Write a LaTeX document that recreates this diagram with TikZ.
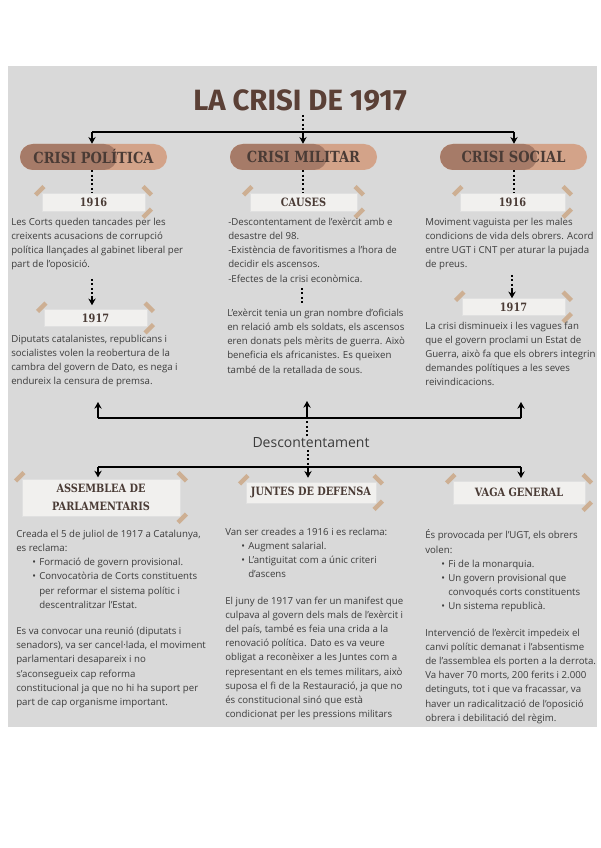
\documentclass[tikz,border=0pt]{standalone}
\usepackage{fontspec}
\setmainfont{Open Sans}
\newfontfamily\slabfont[FakeStretch=0.85]{DejaVu Serif}
\newfontfamily\titlefont{Fira Sans}
\usetikzlibrary{arrows.meta}
\definecolor{bggray}{HTML}{D9D9D9}
\definecolor{pilldark}{HTML}{A67B68}
\definecolor{pilllight}{HTML}{D3A389}
\definecolor{pilltext}{HTML}{4A3B35}
\definecolor{titlebrown}{HTML}{5B4036}
\definecolor{paper}{HTML}{F1F0EE}
\definecolor{tapecol}{HTML}{C9A17C}
\definecolor{bodytext}{HTML}{3C3C3C}
\newcommand{\bul}{\hspace*{12pt}\makebox[5.25pt][l]{\textbullet}}
\newcommand{\cont}{\hspace*{17.25pt}}
\tikzset{
  body/.style={anchor=north west, align=left, inner sep=0pt, font=\fontsize{7.25}{10.65}\selectfont, text=bodytext},
  pilltxt/.style={inner sep=0pt, minimum width=147*0.75pt, minimum height=26*0.75pt, font=\slabfont\bfseries\fontsize{11.5}{12}\selectfont, text=pilltext},
  paperbox/.style={fill=paper, draw=black!12, line width=0.4pt, inner sep=0pt, font=\slabfont\bfseries\fontsize{8.6}{13.5}\selectfont, text=pilltext, align=center},
  conn/.style={line width=1.5pt, draw=black},
  arr/.style={conn, -{Stealth[length=5pt,width=5.5pt]}},
  dots/.style={line width=1.5pt, draw=black, dash pattern=on 1.5pt off 1.8pt},
  tapestrip/.pic={\fill[tapecol, opacity=0.75] (-6,-2.2) rectangle (6,2.2);}
}
\newcommand{\tapes}[1]{%
  \pic[rotate=45] at ([xshift=-1.5pt,yshift=1.5pt]#1.north west) {tapestrip};
  \pic[rotate=-45] at ([xshift=1.5pt,yshift=1.5pt]#1.north east) {tapestrip};
  \pic[rotate=45] at ([xshift=1.5pt,yshift=-1.5pt]#1.south east) {tapestrip};}
\begin{document}
\begin{tikzpicture}[x=0.75pt,y=-0.75pt]
\useasboundingbox (0,0) rectangle (600,848);
\fill[white] (0,0) rectangle (600,848);
\fill[bggray] (8,66) rectangle (597,727);

% title
\node[font=\titlefont\bfseries\fontsize{22}{26}\selectfont, text=titlebrown, inner sep=2pt] (title) at (300,101) {LA CRISI DE 1917};

% pills
\fill[pilllight, rounded corners=9.75pt] (20,144) rectangle (167,170);
\fill[pilldark, rounded corners=9.75pt] (20,144) rectangle (117,170);
\node[pilltxt] (pol) at (93.5,157) {CRISI POLÍTICA};
\fill[pilllight, rounded corners=9.75pt] (230,144) rectangle (377,170);
\fill[pilldark, rounded corners=9.75pt] (230,144) rectangle (327,170);
\node[pilltxt] (mil) at (303.5,157) {CRISI MILITAR};
\fill[pilllight, rounded corners=9.75pt] (440,144) rectangle (587,170);
\fill[pilldark, rounded corners=9.75pt] (440,144) rectangle (537,170);
\node[pilltxt] (soc) at (513.5,157) {CRISI SOCIAL};

% top hub
\coordinate (h1l) at (92,132);
\coordinate (h1m) at (303,132);
\coordinate (h1r) at (514,132);
\draw[dots] (title.south -| h1m) -- (h1m);
\draw[conn] (h1l) -- (h1r);
\draw[arr] (h1l) -- (pol.north -| h1l);
\draw[arr] (h1m) -- (mil.north -| h1m);
\draw[arr] (h1r) -- (soc.north -| h1r);

% boxes row 1
\node[paperbox, minimum width=103*0.75pt, minimum height=18*0.75pt] (pol16) at (93.5,202) {1916};
\node[paperbox, minimum width=107*0.75pt, minimum height=18*0.75pt] (causes) at (303.5,202) {CAUSES};
\node[paperbox, minimum width=105*0.75pt, minimum height=18*0.75pt] (soc16) at (512.5,202) {1916};
\tapes{pol16}\tapes{causes}\tapes{soc16}
\draw[dots] (pol.south -| h1l) -- (pol16.north -| h1l);
\draw[dots] (mil.south -| h1m) -- (causes.north -| h1m);
\draw[dots] (soc.south -| h1r) -- (soc16.north -| h1r);

% texts row 1
\node[body] (tpol16) at (11,217.7) {Les Corts queden tancades per les\\creixents acusacions de corrupció\\política llançades al gabinet liberal per\\part de l'oposició.};
\node[body] (tcauses) at (228,217.7) {-Descontentament de l'exèrcit amb e\\desastre del 98.\\-Existència de favoritismes a l'hora de\\decidir els ascensos.\\-Efectes de la crisi econòmica.};
\node[body] (tsoc16) at (425,217.7) {Moviment vaguista per les males\\condicions de vida dels obrers. Acord\\entre UGT i CNT per aturar la pujada\\de preus.};

% boxes 1917
\node[paperbox, minimum width=103*0.75pt, minimum height=17*0.75pt] (pol17) at (95.5,318) {1917};
\node[paperbox, minimum width=103*0.75pt, minimum height=17*0.75pt] (soc17) at (513.5,307) {1917};
\tapes{pol17}\tapes{soc17}

\coordinate (d1) at (92,279);
\coordinate (d1b) at (92,296);
\draw[dots] (d1) -- (d1b);
\draw[arr, shorten >=3pt] (d1b) -- (pol17.north -| d1b);
\coordinate (d3) at (512,275);
\coordinate (d3b) at (512,290);
\draw[dots] (d3) -- (d3b);
\draw[arr] (d3b) -- (soc17.north -| d3b);

\node[body] (tpol17) at (11,334.7) {Diputats catalanistes, republicans i\\socialistes volen la reobertura de la\\cambra del govern de Dato, es nega i\\endureix la censura de premsa.};
\node[body] (tmil2) at (227,308.7) {L'exèrcit tenia un gran nombre d'oficials\\en relació amb els soldats, els ascensos\\eren donats pels mèrits de guerra. Això\\beneficia els africanistes. Es queixen\\també de la retallada de sous.};
\node[body] (tsoc17) at (425,321.5) {La crisi disminueix i les vagues fan\\que el govern proclami un Estat de\\Guerra, això fa que els obrers integrin\\demandes polítiques a les seves\\reivindicacions.};
\coordinate (d2) at (302,288);
\coordinate (d2b) at (302,304);
\draw[dots] (d2) -- (d2b);

% middle hub
\coordinate (u1) at (98,418);
\coordinate (u2) at (307,418);
\coordinate (u3) at (521,418);
\coordinate (u1t) at (98,402);
\coordinate (u2t) at (307,401);
\coordinate (u3t) at (521,402);
\draw[conn] (u1) -- (u3);
\draw[arr] (u1) -- (u1t);
\draw[arr] (u2) -- (u2t);
\draw[arr] (u3) -- (u3t);
\node[font=\fontsize{10.5}{12}\selectfont, text=bodytext, inner sep=1pt] (desc) at (311,443) {Descontentament};
\draw[dots] (desc.north -| u2) -- (u2);
\coordinate (l1) at (98,467);
\coordinate (l2) at (308,467);
\coordinate (l3) at (521,467);
\draw[dots] (desc.south -| l2) -- (l2);
\draw[conn] (l1) -- (l3);

% bottom boxes
\node[paperbox, minimum width=158*0.75pt, minimum height=37*0.75pt] (ass) at (101,497.5) {ASSEMBLEA DE\\PARLAMENTARIS};
\node[paperbox, minimum width=130*0.75pt, minimum height=21*0.75pt] (jun) at (311,492.5) {JUNTES DE DEFENSA};
\node[paperbox, minimum width=132*0.75pt, minimum height=23*0.75pt] (vag) at (519,492.5) {VAGA GENERAL};
\tapes{ass}\tapes{jun}\tapes{vag}
\draw[arr, shorten >=1pt] (l1) -- (ass.north -| l1);
\draw[arr, shorten >=3pt] (l2) -- (jun.north -| l2);
\draw[arr, shorten >=2pt] (l3) -- (vag.north -| l3);

% bottom texts
\node[body] (tass) at (16,529.7) {Creada el 5 de juliol de 1917 a Catalunya,\\es reclama:\\\bul Formació de govern provisional.\\\bul Convocatòria de Corts constituents\\\cont per reformar el sistema polític i\\\cont descentralitzar l'Estat.\\[9pt]Es va convocar una reunió (diputats i\\senadors), va ser cancel·lada, el moviment\\parlamentari desapareix i no\\s'aconsegueix cap reforma\\constitucional ja que no hi ha suport per\\part de cap organisme important.};
\node[body] (tjun) at (225,527.7) {Van ser creades a 1916 i es reclama:\\\bul Augment salarial.\\\bul L'antiguitat com a únic criteri\\\cont d'ascens\\[9pt]El juny de 1917 van fer un manifest que\\culpava al govern dels mals de l'exèrcit i\\del país, també es feia una crida a la\\renovació política. Dato es va veure\\obligat a reconèixer a les Juntes com a\\representant en els temes militars, això\\suposa el fi de la Restauració, ja que no\\és constitucional sinó que està\\condicionat per les pressions militars};
\node[body] (tvag) at (425,529.7) {És provocada per l'UGT, els obrers\\volen:\\\bul Fi de la monarquia.\\\bul Un govern provisional que\\\cont convoqués corts constituents\\\bul Un sistema republicà.\\[9pt]Intervenció de l'exèrcit impedeix el\\canvi polític demanat i l'absentisme\\de l'assemblea els porten a la derrota.\\Va haver 70 morts, 200 ferits i 2.000\\detinguts, tot i que va fracassar, va\\haver un radicalització de l'oposició\\obrera i debilitació del règim.};
\end{tikzpicture}
\end{document}
